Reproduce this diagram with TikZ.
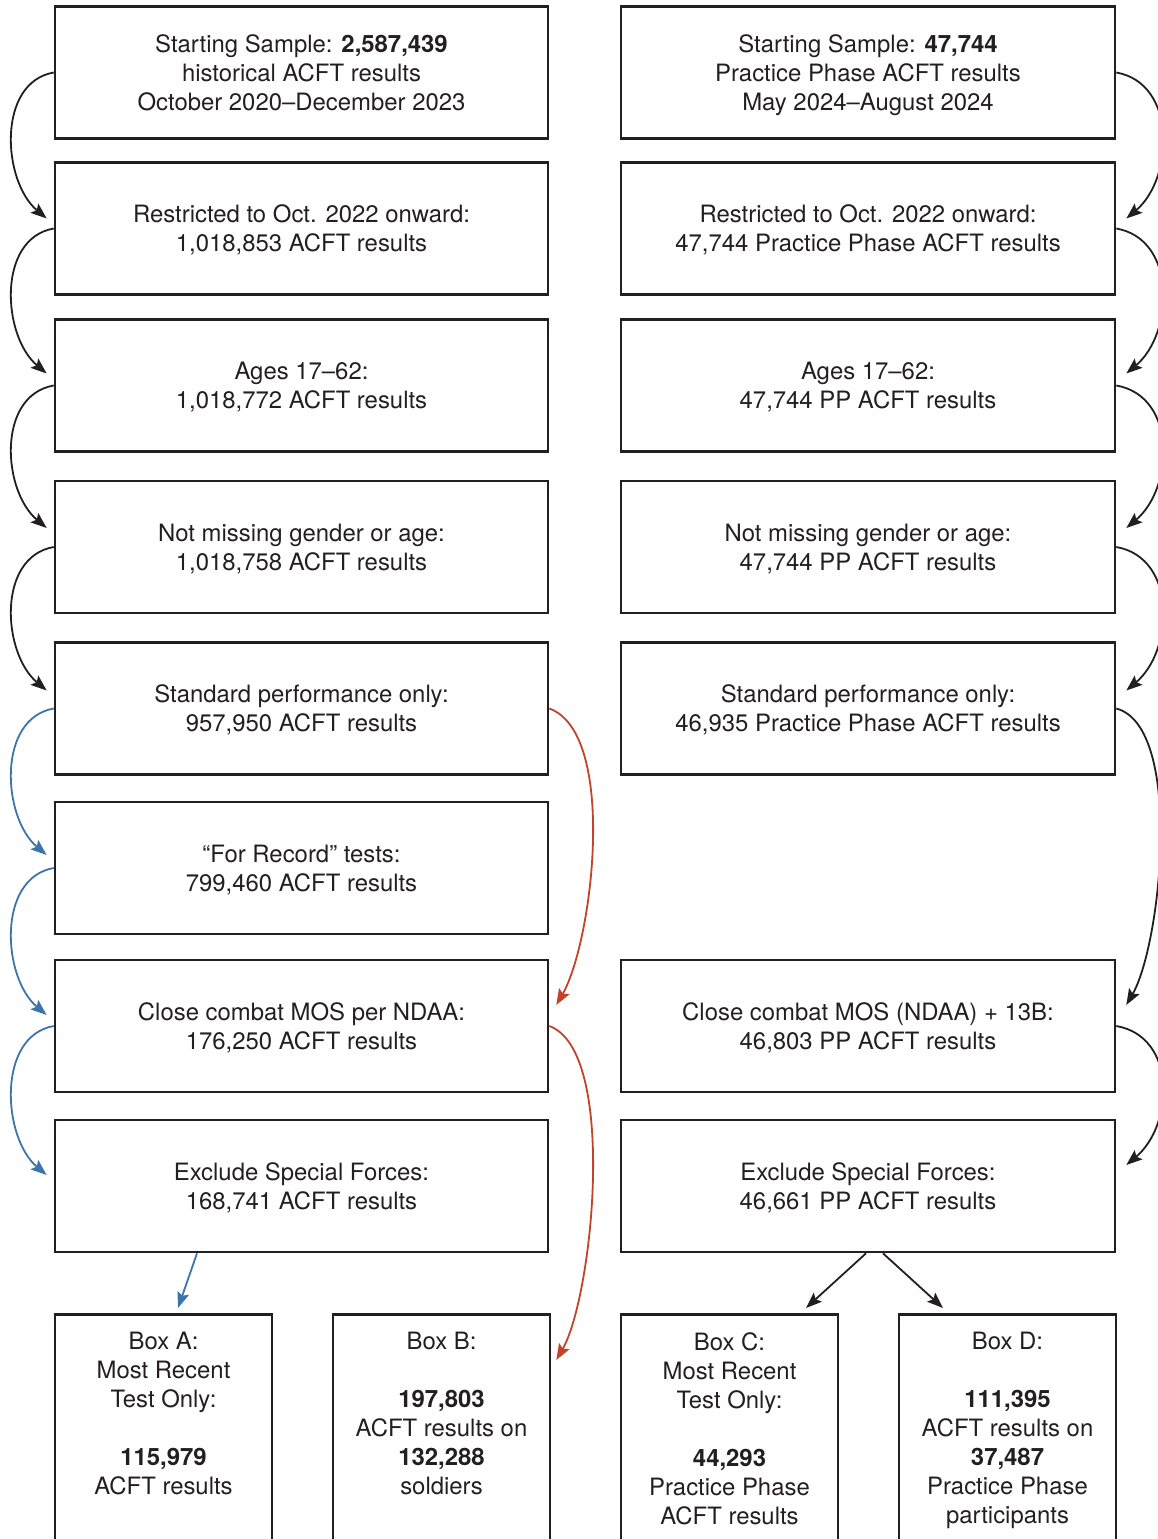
\documentclass[tikz,border=0pt]{standalone}
\usepackage{fontspec}
\setmainfont{TeX Gyre Heros}
\usetikzlibrary{arrows.meta}
\definecolor{ink}{HTML}{231F20}
\definecolor{bluearr}{HTML}{3D74A9}
\definecolor{redarr}{HTML}{C0432A}
\newcommand\boxtext[1]{\parbox[c][132pt][c]{480pt}{\centering\rule{0pt}{26pt}#1\strut}}
\begin{document}
\begin{tikzpicture}[
  x=1pt,y=1pt,
  box/.style={draw=ink, line width=2.6pt, minimum height=132pt, inner sep=0pt, text=ink, font=\fontsize{23.9}{29}\selectfont},
  lbox/.style={box, minimum width=493pt},
  rbox/.style={box, minimum width=494pt},
  smallbox/.style={draw=ink, line width=2.6pt, inner sep=0pt, anchor=north, text=ink, font=\fontsize{23.9}{29}\selectfont},
  arr/.style={line width=1.8pt, -{Stealth[length=16pt,width=12pt,inset=3pt]}},
  blk/.style={arr, draw=ink},
  blu/.style={arr, draw=bluearr},
  rd/.style={arr, draw=redarr},
]
\useasboundingbox (0,0) rectangle (1158,-1539);
\clip (0,0) rectangle (1158,-1539);

% left column
\node[lbox] (L1) at (301.5,-72.5) {\boxtext{Starting Sample: \textbf{2,587,439}\\historical ACFT results\\October 2020–December 2023}};
\node[lbox] (L2) at (301.5,-228.5) {\boxtext{Restricted to Oct. 2022 onward:\\1,018,853 ACFT results}};
\node[lbox] (L3) at (301.5,-385.5) {\boxtext{Ages 17–62:\\1,018,772 ACFT results}};
\node[lbox] (L4) at (301.5,-547) {\boxtext{Not missing gender or age:\\1,018,758 ACFT results}};
\node[lbox] (L5) at (301.5,-708.5) {\boxtext{Standard performance only:\\957,950 ACFT results}};
\node[lbox] (L6) at (301.5,-868) {\boxtext{“For Record” tests:\\799,460 ACFT results}};
\node[lbox] (L7) at (301.5,-1026) {\boxtext{Close combat MOS per NDAA:\\176,250 ACFT results}};
\node[lbox] (L8) at (301.5,-1186) {\boxtext{Exclude Special Forces:\\168,741 ACFT results}};

% right column
\node[rbox] (R1) at (868,-72.5) {\boxtext{Starting Sample: \textbf{47,744}\\Practice Phase ACFT results\\May 2024–August 2024}};
\node[rbox] (R2) at (868,-228.5) {\boxtext{Restricted to Oct. 2022 onward:\\47,744 Practice Phase ACFT results}};
\node[rbox] (R3) at (868,-385.5) {\boxtext{Ages 17–62:\\47,744 PP ACFT results}};
\node[rbox] (R4) at (868,-547) {\boxtext{Not missing gender or age:\\47,744 PP ACFT results}};
\node[rbox] (R5) at (868,-708.5) {\boxtext{Standard performance only:\\46,935 Practice Phase ACFT results}};
\node[rbox] (R7) at (868,-1026) {\boxtext{Close combat MOS (NDAA) + 13B:\\46,803 PP ACFT results}};
\node[rbox] (R8) at (868,-1186) {\boxtext{Exclude Special Forces:\\46,661 PP ACFT results}};

% bottom boxes
\node[smallbox] (A) at (163.5,-1313) {\parbox[t][300pt][t]{217pt}{\centering\vspace*{18pt}Box A:\\Most Recent\\Test Only:\\[29pt]\textbf{115,979}\\ACFT results}};
\node[smallbox] (B) at (441.5,-1313) {\parbox[t][300pt][t]{217pt}{\centering\vspace*{18pt}Box B:\\[29pt]\textbf{197,803}\\ACFT results on\\\textbf{132,288}\\soldiers}};
\node[smallbox] (C) at (729.5,-1313) {\parbox[t][300pt][t]{217pt}{\centering\vspace*{18pt}Box C:\\Most Recent\\Test Only:\\[29pt]\textbf{44,293}\\Practice Phase\\ACFT results}};
\node[smallbox] (D) at (1007.5,-1313) {\parbox[t][300pt][t]{217pt}{\centering\vspace*{18pt}Box D:\\[29pt]\textbf{111,395}\\ACFT results on\\\textbf{37,487}\\Practice Phase\\participants}};

% left curved arrows
\draw[blk] (L1.west) .. controls +(190:58) and +(140:58) .. ([xshift=-7pt,yshift=10pt]L2.west);
\draw[blk] (L2.west) .. controls +(190:58) and +(140:58) .. ([xshift=-7pt,yshift=12pt]L3.west);
\draw[blk] (L3.west) .. controls +(190:58) and +(140:58) .. ([xshift=-7pt,yshift=19pt]L4.west);
\draw[blk] (L4.west) .. controls +(190:58) and +(140:58) .. ([xshift=-7pt,yshift=18pt]L5.west);
\draw[blu] (L5.west) .. controls +(190:58) and +(140:58) .. ([xshift=-7pt,yshift=13pt]L6.west);
\draw[blu] (L6.west) .. controls +(190:58) and +(140:58) .. ([xshift=-7pt,yshift=11pt]L7.west);
\draw[blu] (L7.west) .. controls +(190:58) and +(140:58) .. ([xshift=-7pt,yshift=11pt]L8.west);

% right curved arrows
\draw[blk] (R1.east) .. controls +(-10:62) and +(40:62) .. ([xshift=10pt,yshift=10pt]R2.east);
\draw[blk] (R2.east) .. controls +(-10:62) and +(40:62) .. ([xshift=10pt,yshift=12pt]R3.east);
\draw[blk] (R3.east) .. controls +(-10:62) and +(40:62) .. ([xshift=10pt,yshift=19pt]R4.east);
\draw[blk] (R4.east) .. controls +(-10:62) and +(40:62) .. ([xshift=10pt,yshift=18pt]R5.east);
\draw[blk] (R5.east) .. controls +(-15:70) and +(60:70) .. ([xshift=10pt,yshift=21pt]R7.east);
\draw[blk] (R7.east) .. controls +(-10:62) and +(40:62) .. ([xshift=10pt,yshift=21pt]R8.east);

% red arrows
\draw[rd] (L5.east) .. controls +(-20:73) and +(60:73) .. ([xshift=7pt,yshift=21pt]L7.east);
\draw[rd] (L7.east) .. controls +(-20:73) and +(60:73) .. ([xshift=5pt,yshift=-47pt]B.north east);

% straight arrows
\draw[blu] ([xshift=-104.5pt]L8.south) -- ([xshift=14.5pt,yshift=5pt]A.north);
\draw[blk] ([xshift=-2pt]R8.south) -- ([xshift=76.5pt,yshift=5pt]C.north);
\draw[blk] ([xshift=15pt]R8.south) -- ([xshift=-64.5pt,yshift=5pt]D.north);
\end{tikzpicture}
\end{document}
